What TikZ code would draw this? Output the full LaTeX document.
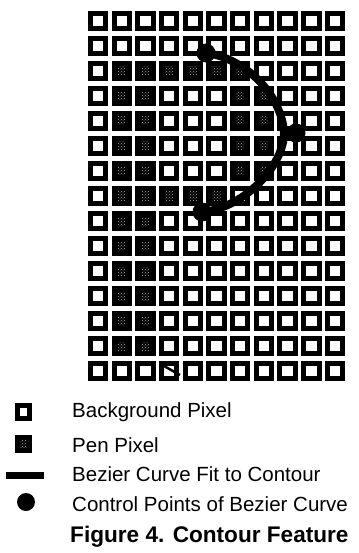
\documentclass[tikz,border=0pt]{standalone}
\usepackage{fontspec}
\setmainfont{Liberation Sans}
\usetikzlibrary{patterns, positioning}

\begin{document}
\begin{tikzpicture}[
            x=1pt, y=-1pt,
            bgpix/.style={draw=black, fill=white, line width=5pt, inner sep=0pt, minimum width=15.4pt, minimum height=14.4pt},
            penpix/.style={bgpix, fill=black, path picture={\fill[pattern=crosshatch dots, pattern color=black!30] ([shift={(-4pt,-4pt)}]path picture bounding box.center) rectangle ++(8pt,8pt);}},
            fitcurve/.style={line width=8pt, black},
            ctrlpt/.style={circle, fill=black, inner sep=0pt, minimum size=19pt},
            legend/.style={anchor=base west, inner sep=0pt, font=\fontsize{20.5}{24}\selectfont},
            caption/.style={legend, font=\fontsize{22.6}{26}\selectfont\bfseries}
        ]
            \useasboundingbox (0,0) rectangle (358,553);

            % pixel grid
            \foreach \r in {0,...,14}
                \foreach \c in {0,...,10}
                    \node[bgpix] (pix-\c-\r) at (98+23.7*\c, 21+25*\r) {};
            \foreach \c/\r in {1/2,2/2,3/2,4/2,5/2,6/2,
                               1/3,2/3,6/3,7/3, 1/4,2/4,6/4,7/4,
                               1/5,2/5,6/5,7/5, 1/6,2/6,6/6,7/6,
                               1/7,2/7,3/7,4/7,5/7,
                               1/8,2/8, 1/9,2/9, 1/10,2/10,
                               1/11,2/11, 1/12,2/12, 1/13,2/13}
                \node[penpix] at (pix-\c-\r) {};
            \draw[line width=2.5pt] (164,366) -- (180,375);

            % contour fit
            \node[ctrlpt] (cpa) at (206,53) {};
            \node[ctrlpt] (cpb) at (296,133) {};
            \node[ctrlpt] (cpc) at (202,212) {};
            \coordinate (apex) at (284,133);
            \draw[fitcurve] (cpa.center) .. controls (245,58) and (282,95) .. (apex)
                .. controls (284,165) and (245,208) .. (cpc.center);

            % legend
            \node[bgpix, minimum width=12.5pt, minimum height=13pt] (keybg) at (23.5,412) {};
            \node[penpix, minimum width=12.5pt, minimum height=13pt] (keypen) at (23.5,444) {};
            \coordinate (keyl) at (6,475);
            \coordinate (keyr) at (44,475);
            \draw[line width=7pt] (keyl) -- (keyr);
            \node[ctrlpt, minimum size=18pt] (keycp) at (26,502) {};

            \node[legend] (txtbg) at (72,417) {Background Pixel};
            \node[legend] (txtpen) at (72,452) {Pen Pixel};
            \node[legend] (txtcurve) at (72,481) {Bezier Curve Fit to Contour};
            \node[legend] (txtcp) at (72,511) {Control Points of Bezier Curve};
            \node[caption] (title) at (70,542) {Figure 4. Contour Feature};
        \end{tikzpicture}
\end{document}
